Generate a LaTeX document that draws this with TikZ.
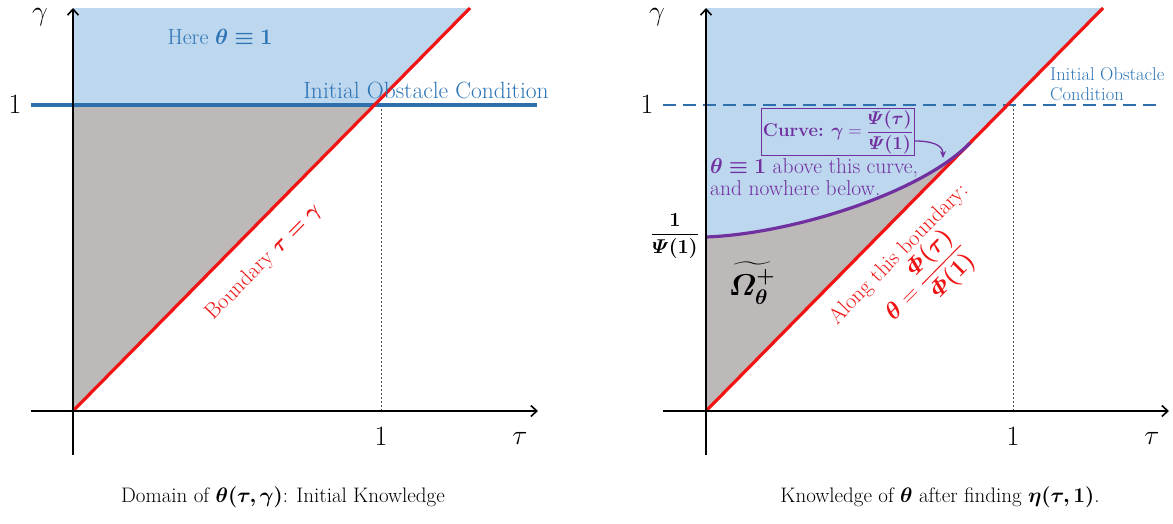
\RequirePackage{fix-cm}
\documentclass[tikz,border=0pt]{standalone}
\usepackage{amsmath,bm}
\usetikzlibrary{arrows.meta}
\definecolor{lblue}{RGB}{189,215,238}
\definecolor{btext}{RGB}{46,117,182}
\definecolor{bline}{RGB}{46,112,172}
\definecolor{rline}{RGB}{240,20,20}
\definecolor{pcol}{RGB}{112,48,160}
\definecolor{gfill}{RGB}{189,185,185}
\newcommand{\fsz}[1]{\fontsize{#1}{#1}\selectfont}
\begin{document}
\begin{tikzpicture}[x=1pt,y=-1pt,
  axis/.style={line width=1.6pt,-{Straight Barb[length=6pt,width=11pt,line width=1.6pt]}},
  blueline/.style={bline,line width=3.2pt},
  bluedash/.style={bline,line width=2.6pt,dash pattern=on 13pt off 7pt},
  redline/.style={rline,line width=3.2pt},
  purpline/.style={pcol,line width=3.2pt},
  dotline/.style={black!70,line width=0.8pt,dash pattern=on 2pt off 2pt},
  lab/.style={font=\fsz{28}},
  bt/.style={text=btext,font=\fsz{22}},
  rt/.style={text=rline,font=\fsz{22}},
  ptxt/.style={text=pcol,font=\fsz{21.5}},
  captxt/.style={font=\fsz{21}}]
\useasboundingbox (0,0) rectangle (1173,523);

% ---------------- left panel ----------------
\coordinate (O1) at (73,411);
\coordinate (T1) at (470,8);
\coordinate (C1) at (375.5,105);
\coordinate (A1) at (73,105);
\fill[lblue] (73,8) -- (T1) -- (C1) -- (A1) -- cycle;
\fill[gfill] (O1) -- (C1) -- (A1) -- cycle;
\coordinate (D1a) at (381,105);
\coordinate (D1b) at (381,411);
\draw[dotline] (D1a) -- (D1b);
\coordinate (B1a) at (31,105);
\coordinate (B1b) at (537,105);
\draw[blueline] (B1a) -- (B1b);
\draw[redline] (O1) -- (T1);
\coordinate (Y1a) at (73,455);
\coordinate (Y1b) at (73,8);
\coordinate (X1a) at (31,411);
\coordinate (X1b) at (538,411);
\draw[axis] (Y1a) -- (Y1b);
\draw[axis] (X1a) -- (X1b);

\node[lab] (g1) at (40,17) {$\gamma$};
\node[lab] (one1) at (15,104) {$1$};
\node[lab] (xo1) at (381,436) {$1$};
\node[lab] (t1) at (520,438) {$\tau$};
\node[bt] (here) at (220,37) {Here $\bm{\theta\equiv1}$};
\node[bt,font=\fsz{23.5}] (ioc1) at (426,90) {Initial Obstacle Condition};
\node[rt] [rotate=45.4] (bd1) at (264,262) {Boundary $\bm{\tau=\gamma}$};
\node[captxt] (cap1) at (283,497) {Domain of $\bm{\theta(\tau,\gamma)}$: Initial Knowledge};

% ---------------- right panel ----------------
\coordinate (O2) at (706,411);
\coordinate (T2) at (1103,8);
\coordinate (K2) at (970,143);
\coordinate (S2) at (706,237);
\fill[lblue] (706,8) -- (T2) -- (K2) .. controls (920,194) and (790,234) .. (S2) -- cycle;
\fill[gfill] (O2) -- (K2) .. controls (920,194) and (790,234) .. (S2) -- cycle;
\coordinate (D2a) at (1013,105);
\coordinate (D2b) at (1013,411);
\draw[dotline] (D2a) -- (D2b);
\coordinate (B2a) at (663,105);
\coordinate (B2b) at (1162,105);
\draw[bluedash] (B2a) -- (B2b);
\draw[redline] (O2) -- (T2);
\draw[purpline] (S2) .. controls (790,234) and (920,194) .. (K2);
\coordinate (Y2a) at (706,455);
\coordinate (Y2b) at (706,8);
\coordinate (X2a) at (663,411);
\coordinate (X2b) at (1169,411);
\draw[axis] (Y2a) -- (Y2b);
\draw[axis] (X2a) -- (X2b);

\node[lab] (g2) at (657,17) {$\gamma$};
\node[lab] (one2) at (647,104) {$1$};
\node[lab] (xo2) at (1013,436) {$1$};
\node[lab] (t2) at (1152,438) {$\tau$};
\node[bt,font=\fsz{18.5},align=left,anchor=west,inner sep=0pt] (ioc2) at (1050,84) {Initial Obstacle\\[2pt]Condition};
\node[font=\fsz{20}] (psi1) at (675,236) {$\dfrac{\bm{1}}{\bm{\varPsi(1)}}$};
\node[font=\fsz{30}] (omega) at (752,283) {$\widetilde{\bm{\varOmega_{\theta}^{+}}}$};
\node[ptxt,font=\fsz{18.5},draw=pcol,line width=0.8pt,inner sep=1.8pt] (box) at (838,132)
  {\textbf{Curve:} $\bm{\gamma}=\dfrac{\bm{\varPsi(\tau)}}{\bm{\varPsi(1)}}$};
\node[ptxt,align=left,anchor=west,inner sep=0pt] (abv) at (710,177)
  {$\bm{\theta\equiv1}$ above this curve,\\[1pt]and nowhere below.};
\coordinate (tip) at (943,158);
\draw[pcol,line width=1.3pt,-{Stealth[length=7pt,width=6pt]}]
  ([yshift=-9pt]box.east) .. controls (932,141) and (943,145) .. (tip);
\node[rt,rotate=45.4,align=center,inner sep=0pt] (along) at (919,274)
  {Along this boundary:\\[-2pt]{\fsz{24}$\bm{\theta}=\dfrac{\bm{\varPhi(\tau)}}{\bm{\varPhi(1)}}$}};
\node[captxt] (cap2) at (940,497) {Knowledge of $\bm{\theta}$ after finding $\bm{\eta(\tau,1)}$.};
\end{tikzpicture}
\end{document}
